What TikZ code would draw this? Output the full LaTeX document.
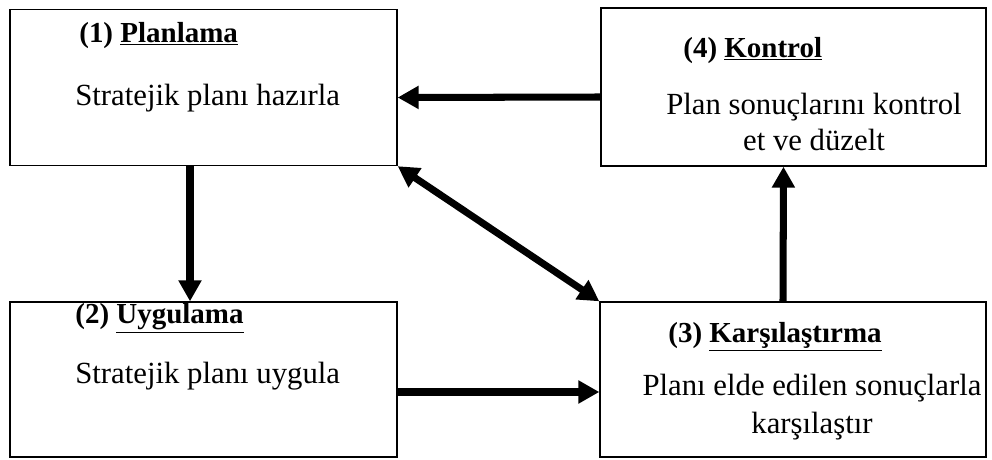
\documentclass[tikz,border=0pt]{standalone}
\usepackage{fontspec}
\setmainfont{Liberation Serif}
\usetikzlibrary{arrows.meta, positioning}
\tikzstyle{stage} = [rectangle, draw=black, line width=0.8pt, minimum width=7.74cm, minimum height=3.12cm]
\tikzstyle{head} = [anchor=base west, inner sep=0pt, font=\fontsize{16.5}{19}\selectfont\bfseries]
\tikzstyle{body} = [inner sep=0pt, font=\fontsize{17.5}{20.5}\selectfont]
\tikzstyle{arrow} = [line width=4pt, -{Triangle[length=0.42cm, width=0.44cm]}]

\begin{document}
\begin{tikzpicture}[x=0.02cm, y=-0.02cm]
    \useasboundingbox (0,0) rectangle (992,460);
    % the four stages
    \node (b1) [stage] at (203.5,87.5) {};
    \node (b4) [stage, minimum width=7.7cm, minimum height=3.16cm] at (793.5,87) {};
    \node (b2) [stage, minimum height=3.1cm] at (203.5,379.5) {};
    \node (b3) [stage, minimum width=7.72cm, minimum height=3.1cm] at (793,379.5) {};

    \node (h1) [head] at (79,42) {(1) \underline{Planlama}};
    \node (t1) [body, anchor=base west] at (75,105) {Stratejik planı hazırla};
    \node (h2) [head] at (75,323) {(2) \underline{Uygulama}};
    \node (t2) [body, anchor=base west] at (75,383) {Stratejik planı uygula};
    \node (h3) [head] at (668,342) {(3) \underline{Karşılaştırma}};
    \node (t3) [body, anchor=base, align=center, font=\fontsize{17.5}{21.5}\selectfont] at (812,433) {Planı elde edilen sonuçlarla\\karşılaştır};
    \node (h4) [head] at (683,57) {(4) \underline{Kontrol}};
    \node (t4) [body, anchor=base, align=center, font=\fontsize{17.5}{20}\selectfont] at (814,150) {Plan sonuçlarını kontrol\\et ve düzelt};

    % connectors
    \draw [arrow] ([yshift=-0.2cm]b4.west) -- ([yshift=-0.2cm]b1.east);
    \draw [arrow] ([xshift=-0.27cm]b1.south) -- ([xshift=-0.27cm]b2.north);
    \draw [arrow, {Triangle[length=0.42cm, width=0.44cm]}-{Triangle[length=0.42cm, width=0.44cm]}] (b1.south east) -- (b3.north west);
    \draw [arrow] ([yshift=-0.25cm]b2.east) -- ([yshift=-0.25cm]b3.west);
    \draw [arrow] ([xshift=-0.2cm]b3.north) -- ([xshift=-0.2cm]b4.south);
\end{tikzpicture}
\end{document}
